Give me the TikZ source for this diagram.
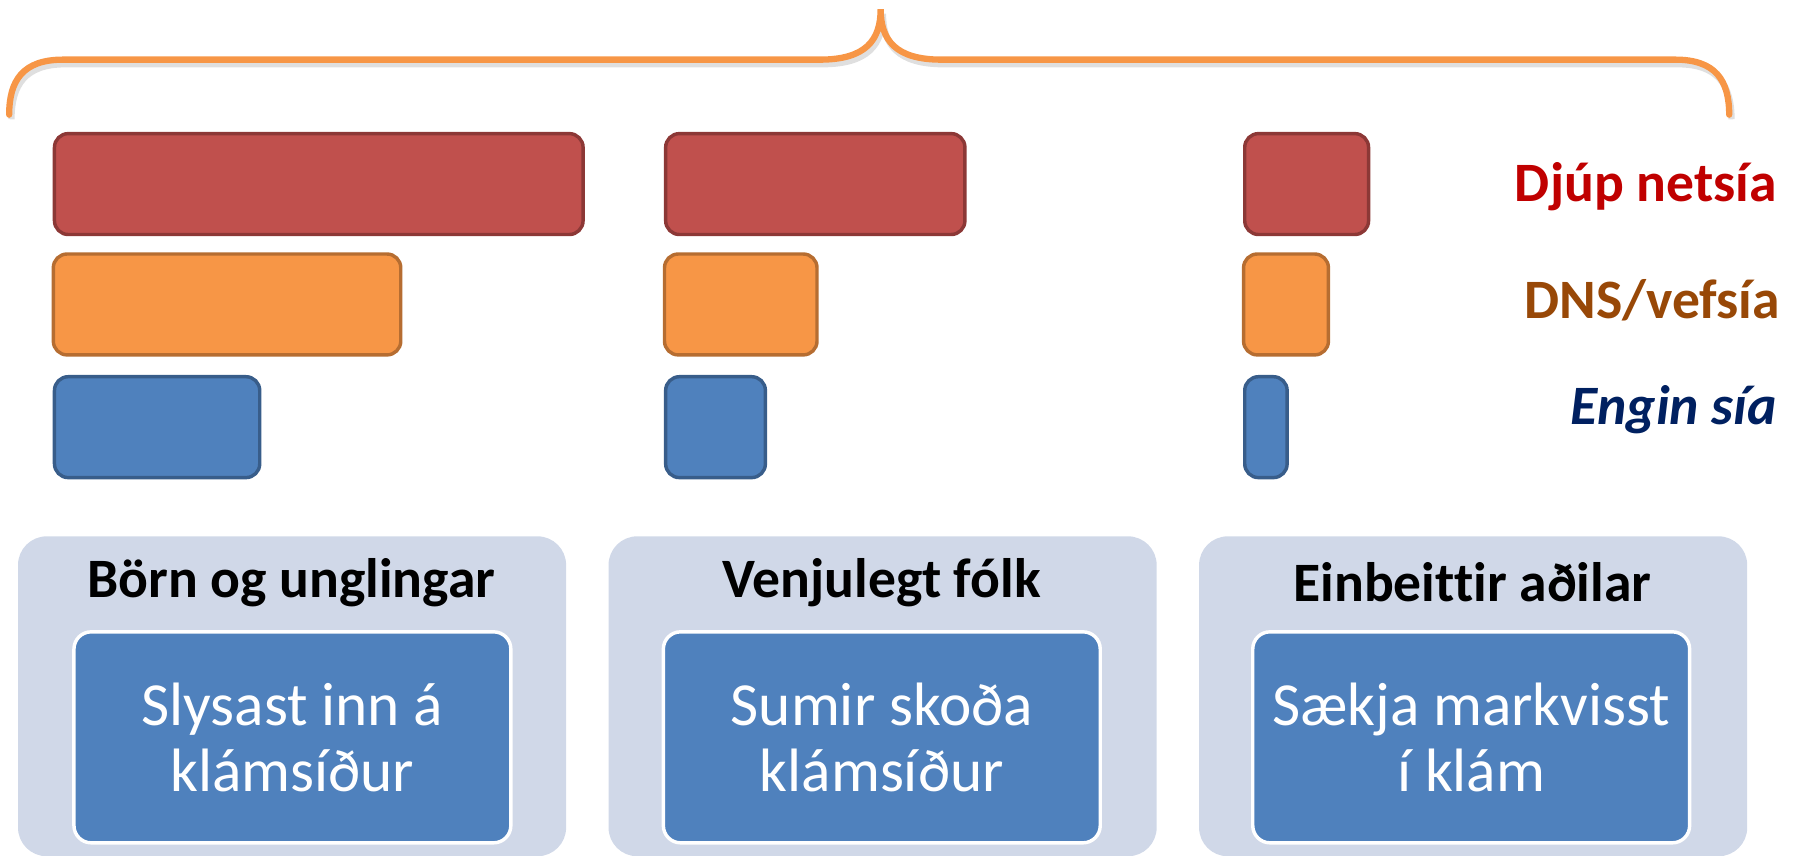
\documentclass[tikz,border=0pt]{standalone}
\usepackage{fontspec}
\setmainfont[Ligatures=NoCommon]{Carlito}
\usetikzlibrary{positioning}
\definecolor{redfill}{HTML}{C0504D}
\definecolor{redline}{HTML}{8C3836}
\definecolor{orangefill}{HTML}{F79646}
\definecolor{orangeline}{HTML}{B66D31}
\definecolor{bluefill}{HTML}{4F81BD}
\definecolor{blueline}{HTML}{385D8A}
\definecolor{groupfill}{HTML}{D0D8E8}
\definecolor{labred}{HTML}{C00000}
\definecolor{laborange}{HTML}{984807}
\definecolor{labblue}{HTML}{002060}
\begin{document}
\begin{tikzpicture}[x=0.1mm,y=-0.1mm,
  bar/.style={draw,rounded corners=1.2mm,line width=0.3mm,minimum height=8.8mm,inner sep=0pt,anchor=north west},
  redbar/.style={bar,fill=redfill,draw=redline},
  orangebar/.style={bar,fill=orangefill,draw=orangeline},
  bluebar/.style={bar,fill=bluefill,draw=blueline},
  group/.style={fill=groupfill,rounded corners=2.5mm,minimum width=47.8mm,minimum height=27.9mm,inner sep=0pt,anchor=north west},
  inner/.style={fill=bluefill,draw=white,line width=0.3mm,rounded corners=1.5mm,minimum width=38.1mm,minimum height=18.4mm,text=white,align=center,font=\fontsize{15.2}{16.5}\selectfont},
  title/.style={font=\bfseries\fontsize{13.8}{16}\selectfont},
  legend/.style={anchor=east,inner sep=0pt,font=\bfseries\fontsize{13.8}{16}\selectfont}]
  \useasboundingbox (0,0) rectangle (1568,746);
  % brace
  \draw[gray,opacity=0.25,line width=0.55mm,shift={(2,4)}] (8,100) .. controls (8,70) and (20,52) .. (55,52) -- (715,52) .. controls (755,52) and (768,35) .. (768,8)
    .. controls (768,35) and (781,52) .. (821,52) -- (1461,52) .. controls (1496,52) and (1508,70) .. (1508,100);
  \draw[orangefill,line width=0.55mm,line cap=round] (8,100) .. controls (8,70) and (20,52) .. (55,52) -- (715,52) .. controls (755,52) and (768,35) .. (768,8)
    .. controls (768,35) and (781,52) .. (821,52) -- (1461,52) .. controls (1496,52) and (1508,70) .. (1508,100);
  % bars
  \foreach \c/\x/\r/\o/\b in {1/46/461/303/179, 2/579/261/133/87, 3/1084/108/74/37} {
    \node (r\c) [redbar,minimum width=\r*0.1mm] at (\x,115) {};
    \node (o\c) [orangebar,minimum width=\o*0.1mm] at (\x-1,220) {};
    \node (b\c) [bluebar,minimum width=\b*0.1mm] at (\x,327) {};
  }
  \node (lred) [legend,text=labred] at (1550,163) {Djúp netsía};
  \node (lorange) [legend,text=laborange] at (1553,262) {DNS/vefsía};
  \node (lblue) [legend,text=labblue,font=\bfseries\itshape\fontsize{13.8}{16}\selectfont] at (1550,357) {Engin sía};
  % groups
  \node (g1) [group] at (15,467) {};
  \node (g2) [group] at (530,467) {};
  \node (g3) [group] at (1045,467) {};
  \node (t1) [title] at (254,508) {Börn og unglingar};
  \node (t2) [title] at (769,508) {Venjulegt fólk};
  \node (t3) [title] at (1284,508) {Einbeittir aðilar};
  \node (i1) [inner] at (255,643) {Slysast inn á\\klámsíður};
  \node (i2) [inner] at (769,643) {Sumir skoða\\klámsíður};
  \node (i3) [inner] at (1283,643) {Sækja markvisst\\í klám};
\end{tikzpicture}
\end{document}
